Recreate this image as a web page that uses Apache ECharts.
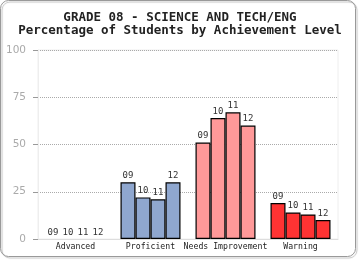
<!DOCTYPE html>
<html lang="en">
<head>
  <meta charset="UTF-8">
  <title>echarts</title>
  <style>
    * { margin: 0; padding: 0; }
    #main { width: 360px; height: 260px; }
  </style>
</head>
<body>
  <div id="main"></div>
  <script src="https://cdn.jsdelivr.net/npm/echarts@6/dist/echarts.min.js"></script>
  <script>
    // 数据
    var categories = ['Advanced', 'Proficient', 'Needs Improvement', 'Warning'];
    var years = ['09', '10', '11', '12'];
    var catColors = ['#6f8fc0', '#8FA7CF', '#FF9999', '#FF3333'];
    // 每一年一组 对应 categories 顺序
    var y09 = [0, 30, 51, 19];
    var y10 = [0, 22, 64, 14];
    var y11 = [0, 21, 67, 13];
    var y12 = [0, 30, 60, 10];
    var yearValues = [y09, y10, y11, y12];
    var yTicks = [0, 25, 50, 75, 100];

    var myCharts = echarts.init(document.getElementById('main'));

    var series = years.map(function (yr, i) {
      return {
        name: yr,
        type: 'bar',
        barGap: '0%',
        barCategoryGap: '20%',
        label: {
          show: true,
          position: 'top',
          distance: 2,
          formatter: yr,
          color: '#333',
          fontFamily: 'DejaVu Sans Mono',
          fontSize: 9
        },
        data: yearValues[i].map(function (v, j) {
          return {
            value: v,
            itemStyle: {
              color: catColors[j],
              borderColor: '#000',
              borderWidth: v === 0 ? 0 : 1.2
            }
          };
        })
      };
    });

    var option = {
      animation: false,
      backgroundColor: '#fff',
      graphic: [{
        type: 'rect',
        shape: { x: 0.5, y: 0.5, width: 355, height: 256, r: 8 },
        style: { fill: 'none', stroke: '#999', lineWidth: 1, shadowColor: 'rgba(0,0,0,0.25)', shadowOffsetX: 1.5, shadowOffsetY: 1.5, shadowBlur: 1 },
        z: -1
      }],
      title: {
        text: 'GRADE 08 - SCIENCE AND TECH/ENG\nPercentage of Students by Achievement Level',
        left: 'center',
        top: 6,
        textStyle: {
          fontFamily: 'DejaVu Sans Mono',
          fontWeight: 'bold',
          fontSize: 12.5,
          lineHeight: 13,
          color: '#222'
        }
      },
      grid: {
        show: true,
        borderColor: '#eee',
        borderWidth: 1,
        left: 38,
        right: 22,
        top: 50,
        bottom: 21,
        containLabel: false
      },
      xAxis: {
        type: 'category',
        data: categories,
        axisLine: { lineStyle: { color: '#ddd' } },
        axisTick: { show: false },
        axisLabel: {
          color: '#222',
          fontFamily: 'DejaVu Sans Mono',
          fontSize: 8.2,
          margin: 4,
          interval: 0
        }
      },
      yAxis: {
        type: 'value',
        min: yTicks[0],
        max: yTicks[yTicks.length - 1],
        interval: 25,
        axisLine: { show: true, lineStyle: { color: '#eee' } },
        axisTick: { show: true, length: 5, lineStyle: { color: '#999' } },
        axisLabel: {
          color: '#aaa',
          fontFamily: 'DejaVu Sans',
          fontSize: 10.5,
          margin: 12
        },
        splitLine: { lineStyle: { type: [1, 1], color: '#aaa' } }
      },
      series: series
    };
    myCharts.setOption(option);
  </script>
</body>
</html>
